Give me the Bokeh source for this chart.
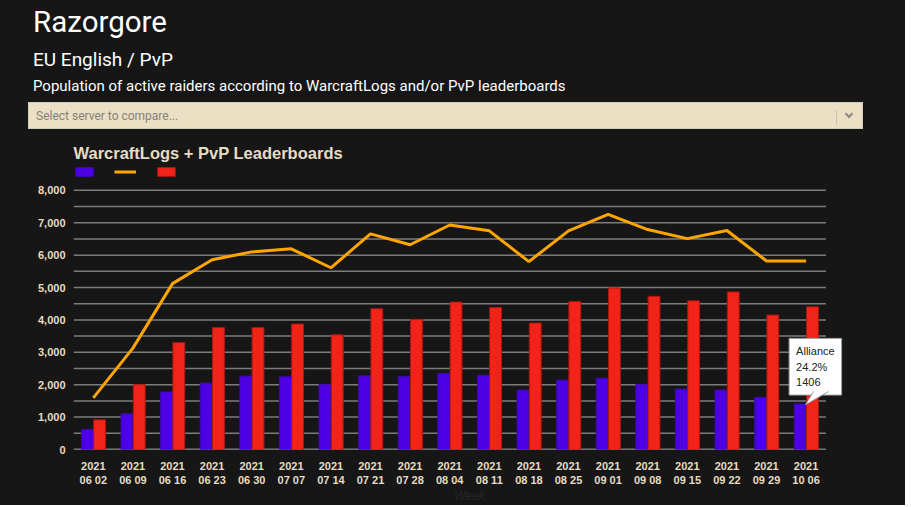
from bokeh.plotting import figure
from bokeh.models import (ColumnDataSource, Range1d, FactorRange, FixedTicker, NumeralTickFormatter,
                          Legend, LegendItem, Label, Div)
from bokeh.transform import dodge
from bokeh.layouts import column
from bokeh.embed import file_html
from bokeh.resources import INLINE

week_labels = ["2021\n06 02", "2021\n06 09", "2021\n06 16", "2021\n06 23", "2021\n06 30",
               "2021\n07 07", "2021\n07 14", "2021\n07 21", "2021\n07 28", "2021\n08 04",
               "2021\n08 11", "2021\n08 18", "2021\n08 25", "2021\n09 01", "2021\n09 08",
               "2021\n09 15", "2021\n09 22", "2021\n09 29", "2021\n10 06"]
alliance = [620, 1100, 1775, 2050, 2265, 2245, 2010, 2275, 2250, 2345,
            2295, 1835, 2140, 2200, 2010, 1865, 1835, 1610, 1406]
horde = [915, 2000, 3300, 3765, 3765, 3875, 3540, 4345, 4020, 4550,
         4385, 3905, 4570, 4985, 4730, 4590, 4865, 4150, 4405]
total = [1595, 3130, 5120, 5860, 6100, 6195, 5610, 6655, 6320, 6930,
         6750, 5800, 6750, 7260, 6790, 6510, 6760, 5820, 5820]
y_major = [0, 1000, 2000, 3000, 4000, 5000, 6000, 7000, 8000]
y_minor = [500, 1500, 2500, 3500, 4500, 5500, 6500, 7500]

BG = "#161616"
BEIGE = "#e6dcc3"
GRID = "#7c7c7c"

header = Div(text="""
<div style="position:relative;width:905px;height:136px;font-family:Roboto,sans-serif;color:#ffffff;">
  <div style="position:absolute;left:33px;top:8px;font-size:29.5px;line-height:1;white-space:nowrap;">Razorgore</div>
  <div style="position:absolute;left:33px;top:50px;font-size:19px;line-height:1;white-space:nowrap;">EU English / PvP</div>
  <div style="position:absolute;left:33px;top:79px;font-size:15px;line-height:1;white-space:nowrap;">Population of active raiders according to WarcraftLogs and/or PvP leaderboards</div>
  <div style="position:absolute;left:28px;top:102px;width:835px;height:27px;background:#ebdfc4;border:1px solid #d2cbbb;">
    <div style="position:absolute;left:7px;top:7px;font-size:12px;line-height:1;color:#85817a;white-space:nowrap;">Select server to compare...</div>
    <div style="position:absolute;left:807px;top:7px;width:1px;height:15px;background:#c9c1b1;"></div>
    <div style="position:absolute;left:817px;top:8px;width:6px;height:6px;border-right:2px solid #8c8a86;border-bottom:2px solid #8c8a86;transform:rotate(45deg);"></div>
  </div>
</div>
""", width=905, height=136, styles={"margin": "0", "padding": "0"})

src = ColumnDataSource(dict(week=week_labels, alliance=alliance, horde=horde, total=total))

# one blank slot on the right leaves room for the tooltip box
x_range = FactorRange(factors=week_labels + [" "])
p = figure(x_range=x_range, y_range=Range1d(0, 8736), width=905, height=369,
           output_backend="svg", toolbar_location=None,
           background_fill_color=BG, border_fill_color=BG, outline_line_color=None,
           min_border_left=73, min_border_right=40, min_border_top=0, min_border_bottom=0)

p.title.text = "WarcraftLogs + PvP Leaderboards"
p.title.text_color = BEIGE
p.title.text_font = "Liberation Sans"
p.title.text_font_size = "16.5px"
p.title.text_font_style = "bold"
p.title.offset = 0

# horizontal grid lines over the week span only
n = len(week_labels)
grid_y = y_minor + y_major
p.segment(x0=[0] * len(grid_y), x1=[n] * len(grid_y), y0=grid_y, y1=grid_y,
          line_color=GRID, line_width=1.5)
p.segment(x0=[0], x1=[n], y0=[0], y1=[0], line_color="#9a9a9a", line_width=1.5)

r_a = p.vbar(x=dodge("week", -0.15, range=p.x_range), top="alliance", width=0.3, source=src,
             fill_color="#4d00e6", line_color="#3c0aa8", line_width=1)
r_h = p.vbar(x=dodge("week", 0.16, range=p.x_range), top="horde", width=0.3, source=src,
             fill_color="#f2241a", line_color="#a8180f", line_width=1)
r_t = p.line(x="week", y="total", source=src, line_color="#ffa500", line_width=3)

legend = Legend(items=[LegendItem(label="", renderers=[r_a]),
                       LegendItem(label="", renderers=[r_t]),
                       LegendItem(label="", renderers=[r_h])],
                orientation="horizontal", location="top_left",
                glyph_width=22, glyph_height=11, label_width=0, label_standoff=0,
                label_height=0, spacing=19, padding=0, margin=0,
                background_fill_alpha=0, border_line_alpha=0, label_text_font_size="1px")
p.add_layout(legend, "center")

p.yaxis.ticker = FixedTicker(ticks=y_major, minor_ticks=y_minor)
p.yaxis.formatter = NumeralTickFormatter(format="0,0")
p.yaxis.axis_line_color = None
p.yaxis.major_tick_line_color = None
p.yaxis.minor_tick_line_color = None
p.yaxis.major_label_standoff = 2
p.xaxis.axis_line_color = None
p.xaxis.major_tick_line_color = None
p.xaxis.minor_tick_line_color = None
p.xaxis.major_label_standoff = 4
p.xaxis.axis_label = "Week"
p.xaxis.axis_label_text_color = "#262626"
p.xaxis.axis_label_text_font = "Liberation Sans"
p.xaxis.axis_label_text_font_size = "12px"
p.xaxis.axis_label_text_font_style = "italic"
p.xaxis.axis_label_standoff = 0
for ax in (p.xaxis, p.yaxis):
    ax.major_label_text_color = BEIGE
    ax.major_label_text_font = "Liberation Sans"
    ax.major_label_text_font_size = "11px"
    ax.major_label_text_font_style = "bold"

p.xgrid.grid_line_color = None
p.ygrid.grid_line_color = None

# tooltip for the last Alliance bar
i = n - 1
xc = i + 0.5
tip_y = alliance[i]
share = 100.0 * alliance[i] / total[i]
px_per_cat = 39.6
px_per_unit = 32.6 / 1000
tip_src = ColumnDataSource(dict(
    x=[xc - 0.6 / px_per_cat, xc + 7.5 / px_per_cat, xc + 22.5 / px_per_cat],
    y=[tip_y - 24, tip_y + 12.5 / px_per_unit, tip_y + 12.5 / px_per_unit]))
p.add_layout(Label(x=xc, y=tip_y + 66 / px_per_unit, x_offset=-17,
                   text=f"Alliance\n{share:.1f}%\n{alliance[i]}",
                   text_font="Liberation Sans", text_font_size="11px", text_color="#222222",
                   text_baseline="top", text_line_height=1.28,
                   background_fill_color="white", border_line_color="#9a9a9a", padding=7))
p.patch(x="x", y="y", source=tip_src, fill_color="white", line_alpha=0, level="overlay")
p.multi_line(xs=[[tip_src.data["x"][1], tip_src.data["x"][0], tip_src.data["x"][2]]],
             ys=[[tip_src.data["y"][1], tip_src.data["y"][0], tip_src.data["y"][2]]],
             line_color="#9a9a9a", line_width=1, level="overlay")

layout = column(header, p, spacing=0, styles={"background-color": BG})
html = file_html(layout, INLINE, title="Razorgore")
html = html.replace("<body>", '<body style="background-color:#161616;">', 1)
open("out.html", "w").write(html)
